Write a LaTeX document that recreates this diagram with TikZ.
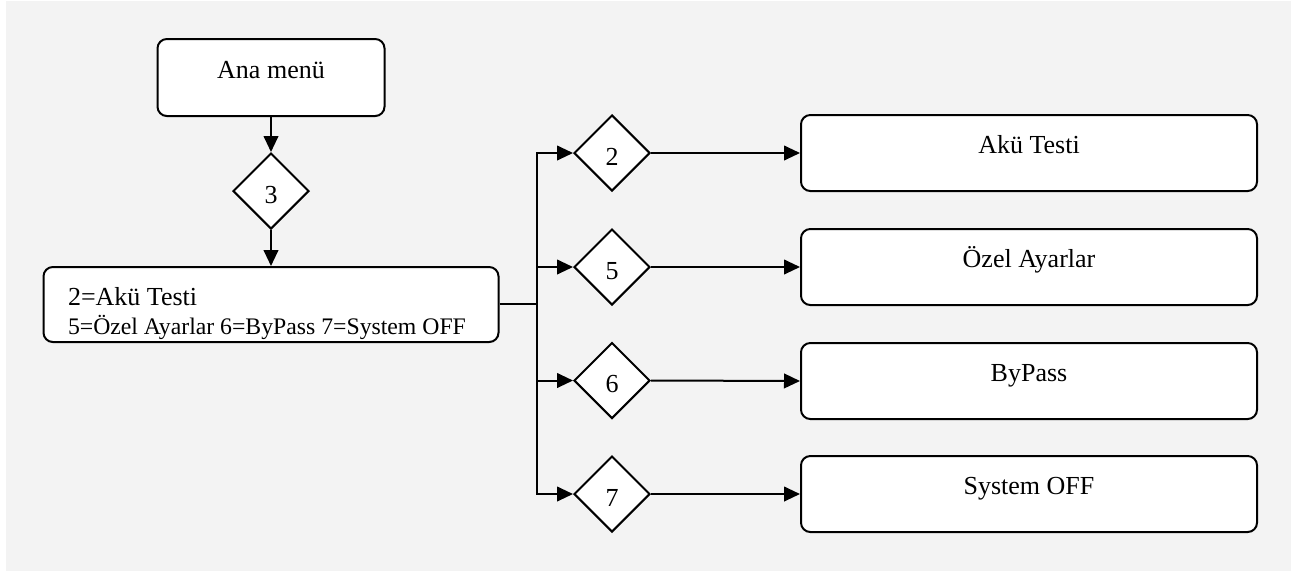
\documentclass[tikz,border=0pt]{standalone}
\usepackage{fontspec}
\setmainfont{Liberation Serif}
\usetikzlibrary{shapes.geometric,arrows.meta}
\def\pxu{0.75pt}
\tikzset{
  rbox/.style={draw=black, fill=white, rounded corners=7pt, inner xsep=0pt, inner ysep=0pt,
    minimum width=#1*\pxu, minimum height=76*\pxu, text height=28.5pt, text depth=28.5pt,
    font=\fontsize{19.5}{22}\selectfont},
  rbox/.default=456,
  dec/.style={draw=black, fill=white, diamond, aspect=1, inner sep=0pt,
    minimum width=76*\pxu, minimum height=76*\pxu, text height=18pt, text depth=0pt,
    font=\fontsize{19.5}{22}\selectfont},
  arr/.style={-{Triangle[length=12pt,width=11pt]}},
  lbl/.style={inner sep=0pt, anchor=base west}
}
\begin{document}
\begin{tikzpicture}[x=0.75pt,y=-0.75pt,line width=1.5pt]
\useasboundingbox (0,0) rectangle (1297,572);
\fill[white] (0,0) rectangle (1297,572);
\fill[fill={rgb,255:red,243;green,243;blue,243}] (6,1) rectangle (1291,571);

\node[rbox=227, minimum height=77*\pxu, text height=29.25pt] (ana) at (271,77.5) {Ana menü};
\node[dec] (d3) at (271,191) {3};
\node[rbox=455, minimum height=75*\pxu, text height=0pt, text depth=0pt] (menu) at (271,304.5) {};
\node[lbl, font=\fontsize{19.5}{22}\selectfont] (l1) at (67,305) {2=Akü Testi};
\node[lbl, font=\fontsize{17.8}{20}\selectfont] (l2) at (67,334) {5=Özel Ayarlar 6=ByPass 7=System OFF};

\coordinate (j) at (537,304);

\node[dec] (d2) at (612,153) {2};
\node[dec] (d5) at (612,267) {5};
\node[dec] (d6) at (612,380.5) {6};
\node[dec] (d7) at (612,494) {7};

\node[rbox] (b2) at (1029,153) {Akü Testi};
\node[rbox] (b5) at (1029,267) {Özel Ayarlar};
\node[rbox] (b6) at (1029,381) {ByPass};
\node[rbox] (b7) at (1029,494) {System OFF};

\draw[arr] (ana) -- (d3);
\draw[arr] (d3) -- (menu);
\draw (menu.east |- j) -- (j);
\foreach \d/\b in {d2/b2,d5/b5,d6/b6,d7/b7}{
  \draw[arr] (j) |- (\d.west);
  \draw[arr] (\d.east) -- (\b.west);
}
\end{tikzpicture}
\end{document}
